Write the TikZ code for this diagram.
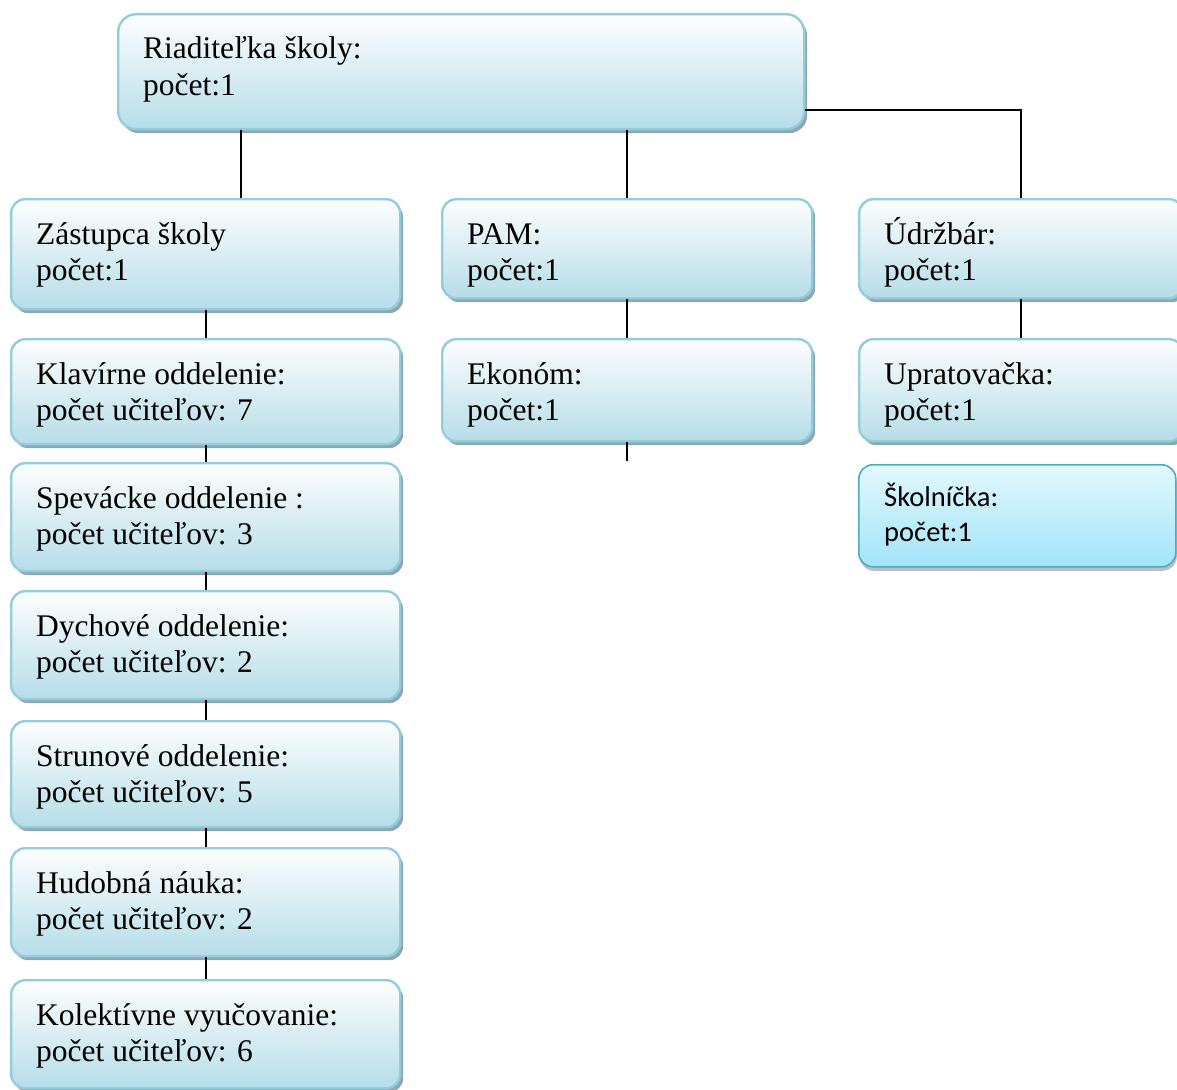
\documentclass[tikz,border=0pt]{standalone}
\usepackage{fontspec}
\setmainfont{Liberation Serif}
\newfontfamily\carlitofont{Carlito}
\usetikzlibrary{calc,shadows}
\definecolor{boxedge}{HTML}{93CDDD}
\definecolor{boxtop}{HTML}{FDFEFE}
\definecolor{boxmid}{HTML}{E1F1F5}
\definecolor{boxbot}{HTML}{B6DDE8}
\definecolor{shadowc}{HTML}{8DA8AE}
\definecolor{skedge}{HTML}{4BACC6}
\definecolor{sktop}{HTML}{E2F8FE}
\definecolor{skbot}{HTML}{A3E4F8}
\newcommand\twol[2]{\begin{tabular}[t]{@{}l@{}}#1\\#2\end{tabular}}
\begin{document}
\begin{tikzpicture}[x=1pt,y=-1pt,
  box/.style={draw=boxedge, line width=2.4pt, rounded corners=14pt,
    top color=boxtop, middle color=boxmid, bottom color=boxbot,
    inner sep=0pt, anchor=north west,
    drop shadow={shadow xshift=3pt, shadow yshift=-4pt, fill=shadowc, opacity=1}},
  skbox/.style={draw=skedge, line width=1.6pt, rounded corners=14pt,
    top color=sktop, bottom color=skbot, inner sep=0pt, anchor=north west,
    drop shadow={shadow xshift=1pt, shadow yshift=-4pt, fill=black, opacity=0.25}},
  txt/.style={anchor=base west, inner sep=0pt, font=\fontsize{31.5}{36.5}\selectfont},
  sktxt/.style={anchor=base west, inner sep=0pt, font=\carlitofont\fontsize{28.5}{35.5}\selectfont},
  conn/.style={draw=black, line width=1.6pt}]
\useasboundingbox (0,0) rectangle (1177,1089);
% top box
\node[box, rounded corners=18pt, minimum width=686pt, minimum height=115pt] (riad) at (117,13) {};
\node[txt] (riadT) at (143,59) {\twol{Riaditeľka školy:}{počet:1}};
% left column
\node[box, minimum width=389pt, minimum height=110pt] (zas) at (10,198) {};
\node[txt] (zasT) at (36,244) {\twol{Zástupca školy}{počet:1}};
\node[box, minimum width=389pt, minimum height=105pt] (kla) at (10,338) {};
\node[txt] (klaT) at (36,384) {\twol{Klavírne oddelenie:}{počet učiteľov: 7}};
\node[box, minimum width=389pt, minimum height=108pt] (spe) at (10,462) {};
\node[txt] (speT) at (36,508) {\twol{Spevácke oddelenie :}{počet učiteľov: 3}};
\node[box, minimum width=389pt, minimum height=108pt] (dyc) at (10,590) {};
\node[txt] (dycT) at (36,636) {\twol{Dychové oddelenie:}{počet učiteľov: 2}};
\node[box, minimum width=389pt, minimum height=106pt] (str) at (10,720) {};
\node[txt] (strT) at (36,766) {\twol{Strunové oddelenie:}{počet učiteľov: 5}};
\node[box, minimum width=389pt, minimum height=108pt] (hud) at (10,847) {};
\node[txt] (hudT) at (36,893) {\twol{Hudobná náuka:}{počet učiteľov: 2}};
\node[box, minimum width=389pt, minimum height=108pt] (kol) at (10,979) {};
\node[txt] (kolT) at (36,1025) {\twol{Kolektívne vyučovanie:}{počet učiteľov: 6}};
% middle column
\node[box, minimum width=370pt, minimum height=99pt] (pam) at (441,198) {};
\node[txt] (pamT) at (467,244) {\twol{PAM:}{počet:1}};
\node[box, minimum width=370pt, minimum height=102pt] (eko) at (441,338) {};
\node[txt] (ekoT) at (467,384) {\twol{Ekonóm:}{počet:1}};
% right column
\node[box, minimum width=324pt, minimum height=99pt] (udr) at (858,198) {};
\node[txt] (udrT) at (884,244) {\twol{Údržbár:}{počet:1}};
\node[box, minimum width=324pt, minimum height=102pt] (upr) at (858,338) {};
\node[txt] (uprT) at (884,384) {\twol{Upratovačka:}{počet:1}};
\node[skbox, minimum width=317pt, minimum height=102pt] (sko) at (858,464) {};
\node[sktxt] (skoT) at (884,506) {\twol{Školníčka:}{počet:1}};
% connectors
\coordinate (zx) at (241,0);
\coordinate (rj) at (805,110);
\coordinate (ekend) at (626,461);
\draw[conn] (riad.south -| zx) -- (zas.north -| zx);
\draw[conn] (riad.south -| pam.north) -- (pam.north);
\draw[conn] (rj) -| (udr.north);
\draw[conn] (zas.south) -- (kla.north);
\draw[conn] (kla.south) -- (spe.north);
\draw[conn] (spe.south) -- (dyc.north);
\draw[conn] (dyc.south) -- (str.north);
\draw[conn] (str.south) -- (hud.north);
\draw[conn] (hud.south) -- (kol.north);
\draw[conn] (pam.south) -- (eko.north);
\draw[conn] (eko.south) -- (eko.south |- ekend);
\draw[conn] (udr.south) -- (upr.north);
\end{tikzpicture}
\end{document}
